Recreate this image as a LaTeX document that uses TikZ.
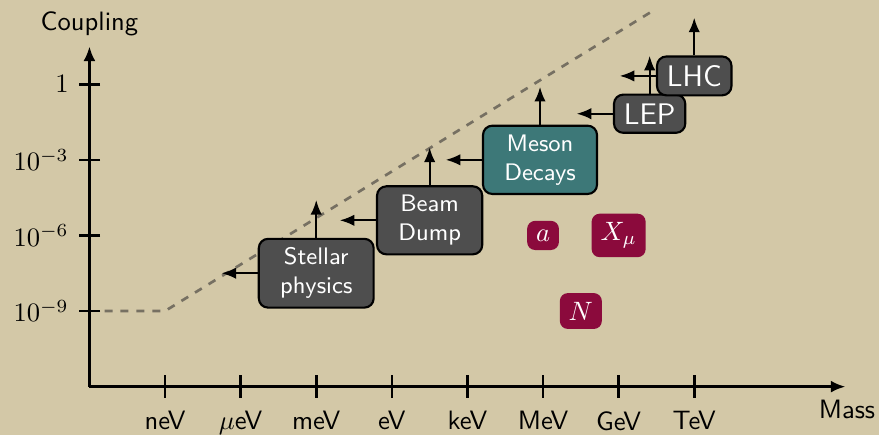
\documentclass[tikz,border=0pt]{standalone}
\usepackage{amsmath}
\usepackage{tikz}
\usetikzlibrary{arrows.meta}
\definecolor{sand}{RGB}{211,200,167}
\definecolor{slate}{RGB}{78,78,78}
\definecolor{mesonteal}{RGB}{61,120,120}
\definecolor{wine}{RGB}{139,10,60}
\definecolor{dashgray}{RGB}{118,112,98}

\begin{document}
\begin{tikzpicture}[
    every node/.style={font=\sffamily},
    axis/.style={line width=1pt},
    bound/.style={thick, -{Latex[length=5.5pt,width=4.3pt]}},
    expt/.style={draw=black, thick, fill=slate, text=white, rounded corners=3.5pt,
      align=center, font=\sffamily\small, inner xsep=8pt, inner ysep=3.3pt},
    collider/.style={expt, font=\sffamily\fontsize{11.2}{13}\selectfont, inner xsep=3.7pt},
    particle/.style={fill=wine, text=white, rounded corners=3pt}
  ]
  % Background
  \path[use as bounding box, fill=sand] (-1.183,-0.64) rectangle (10.444,5.114);

  % Axes
  \coordinate (origin) at (0,0);
  \coordinate (xend) at (10,0);
  \coordinate (yend) at (0,4.5);
  \draw[axis, -{Latex[length=5.5pt,width=4.5pt]}] (origin) -- (xend);
  \draw[axis, -{Latex[length=5.5pt,width=4.5pt]}] (origin) -- (yend);
  \node[anchor=north] (masslabel) at (10.02,-0.05) {Mass};
  \node[above] (couplinglabel) at (0,4.52) {Coupling};

  % Ticks
  \foreach \lab [count=\i] in {neV, $\mu$eV, meV, eV, keV, MeV, GeV, TeV}
    \draw[axis] (\i,0.15) -- (\i,-0.15) node[below=1.2pt] {\lab};
  \foreach \lab [count=\j] in {10^{-9}, 10^{-6}, 10^{-3}, 1}
    \draw[axis] (0.14,\j) -- (-0.14,\j) node[left] {$\lab$};

  % Limit line
  \draw[dashgray, line width=1pt, dashed] (0.2,1) -- (1,1) -- (7.5,5);

  % Experiments
  \node[expt] (stellar) at (3,1.5) {Stellar\\physics};
  \node[expt] (beamdump) at (4.5,2.2) {Beam\\Dump};
  \node[expt, fill=mesonteal] (meson) at (5.96,3) {Meson\\Decays};
  \node[collider] (lep) at (7.41,3.61) {LEP};
  \node[collider] (lhc) at (8,4.11) {LHC};

  % Bounds
  \foreach \e in {stellar, beamdump, meson, lep, lhc} {
    \draw[bound] (\e.west) -- ++(-0.48,0);
    \draw[bound] (\e.north) -- ++(0,0.5);
  }

  % Particles
  \node[particle] (axion) at (6,2) {$a$};
  \node[particle] (darkphoton) at (7,2) {$X_\mu$};
  \node[particle] (hnl) at (6.5,1) {$N$};
\end{tikzpicture}
\end{document}
